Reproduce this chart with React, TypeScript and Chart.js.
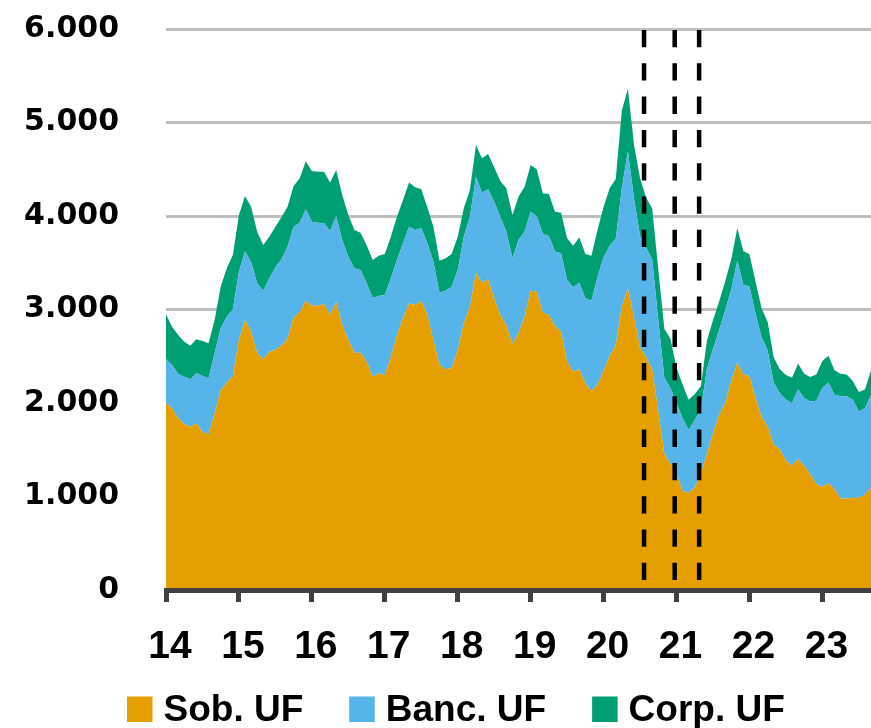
import React, { useEffect, useRef } from "react";
import { Chart, registerables } from "chart.js";

Chart.register(...registerables);

// Monthly data, Jan 2014 onwards (x in years, 14 = 2014)
const startYear = 14;
const yearTicks = [14, 15, 16, 17, 18, 19, 20, 21, 22, 23];

const sobUF = [
  1997, 1943, 1836, 1775, 1747, 1782, 1693, 1665, 1890, 2139,
  2217, 2289, 2674, 2888, 2763, 2531, 2467, 2549, 2567, 2613,
  2692, 2916, 2970, 3094, 3040, 3040, 3058, 2941, 3084, 2834,
  2674, 2538, 2538, 2442, 2282, 2317, 2299, 2495, 2727, 2906,
  3066, 3048, 3091, 2941, 2674, 2406, 2360, 2371, 2567, 2852,
  3030, 3394, 3287, 3323, 3120, 2941, 2834, 2631, 2745, 2923,
  3201, 3190, 2966, 2941, 2824, 2763, 2442, 2335, 2360, 2210,
  2132, 2192, 2345, 2505, 2614, 3030, 3228, 2921, 2595, 2487,
  2360, 1908, 1456, 1347, 1239, 1058, 1040, 1095, 1239, 1456,
  1673, 1872, 1999, 2234, 2433, 2306, 2288, 2053, 1854, 1745,
  1553, 1503, 1384, 1329, 1402, 1329, 1239, 1130, 1105, 1141,
  1077, 979, 979, 986, 986, 1022, 1095,
];

const bancUF = [
  470, 463, 474, 507, 506, 535, 595, 599, 641, 660,
  706, 713, 731, 731, 749, 749, 734, 785, 884, 924,
  980, 970, 959, 977, 899, 889, 864, 899, 916, 909,
  891, 902, 884, 845, 845, 827, 856, 838, 802, 802,
  820, 802, 777, 767, 837, 774, 841, 873, 855, 927,
  963, 1027, 963, 962, 1033, 1052, 998, 916, 998, 909,
  845, 810, 841, 845, 795, 838, 874, 902, 927, 910,
  962, 1159, 1215, 1176, 1139, 1266, 1466, 1266, 1195, 1176,
  1176, 977, 814, 814, 760, 778, 670, 723, 688, 904,
  904, 904, 994, 976, 1085, 959, 959, 905, 850, 814,
  663, 604, 651, 670, 742, 724, 778, 894, 1056, 1075,
  1012, 1092, 1092, 1049, 922, 922, 994,
];

const corpUF = [
  483, 410, 417, 374, 360, 364, 375, 374, 357, 445,
  517, 581, 606, 595, 588, 552, 489, 445, 435, 449,
  428, 435, 474, 514, 542, 545, 552, 517, 492, 482,
  446, 410, 400, 403, 402, 432, 439, 446, 464, 463,
  471, 457, 417, 385, 375, 342, 346, 350, 357, 303,
  285, 338, 367, 379, 368, 380, 464, 464, 464, 482,
  499, 499, 436, 449, 427, 435, 445, 446, 485, 474,
  482, 499, 540, 615, 644, 832, 668, 579, 614, 531,
  543, 542, 524, 525, 379, 362, 325, 278, 252, 307,
  308, 307, 307, 326, 351, 361, 344, 342, 307, 308,
  271, 253, 264, 271, 278, 260, 260, 282, 289, 289,
  261, 242, 235, 199, 210, 200, 261,
];

const seriesLabels = ["Sob. UF", "Banc. UF", "Corp. UF"];
const seriesColors = ["#E69F00", "#56B4E9", "#009E73"];
const seriesValues = [sobUF, bancUF, corpUF];

// Dashed event lines (pension fund withdrawals), in years
const eventLines = [20.555, 20.975, 21.31];

const yMin = 0;
const yMax = 6000;
const yStep = 1000;

const monthPositions = sobUF.map((_, i) => startYear + i / 12);

const fmtThousands = (v: number) =>
  String(Math.round(v)).replace(/\B(?=(\d{3})+(?!\d))/g, ".");

const eventLinesPlugin = {
  id: "eventLines",
  afterDatasetsDraw(chart: any) {
    const { ctx, chartArea, scales } = chart;
    ctx.save();
    ctx.strokeStyle = "#000000";
    ctx.lineWidth = 4.5;
    ctx.setLineDash([17.3, 16]);
    for (const v of eventLines) {
      const x = scales.x.getPixelForValue(v);
      ctx.beginPath();
      ctx.moveTo(x, chartArea.top + 1);
      ctx.lineTo(x, chartArea.bottom);
      ctx.stroke();
    }
    ctx.restore();
  },
};

const legendPlugin = {
  id: "customLegend",
  afterDraw(chart: any) {
    const ctx = chart.ctx;
    ctx.save();
    ctx.font = 'bold 37px "Liberation Sans", Arial, sans-serif';
    ctx.textBaseline = "alphabetic";
    ctx.textAlign = "left";
    const box = 25.5;
    const boxTop = 696.5;
    const baseline = 721;
    let x = 127;
    chart.data.datasets.forEach((ds: any) => {
      ctx.fillStyle = ds.backgroundColor;
      ctx.fillRect(x, boxTop, box, box);
      const tx = x + box + 11;
      ctx.fillStyle = "#000000";
      ctx.fillText(ds.label, tx, baseline);
      x = tx + ctx.measureText(ds.label).width + 46;
    });
    ctx.restore();
  },
};

export default function App() {
  const canvasRef = useRef<HTMLCanvasElement | null>(null);

  useEffect(() => {
    if (!canvasRef.current) return;
    const datasets = seriesValues.map((vals, si) => ({
      label: seriesLabels[si],
      data: vals.map((v, i) => ({ x: monthPositions[i], y: v })),
      backgroundColor: seriesColors[si],
      borderColor: seriesColors[si],
      borderWidth: 0,
      pointRadius: 0,
      tension: 0,
      fill: si === 0 ? "origin" : "-1",
    }));

    const chart = new Chart(canvasRef.current, {
      type: "line",
      data: { datasets },
      options: {
        animation: false,
        responsive: false,
        devicePixelRatio: 1,
        layout: { padding: { top: 29, left: 0, right: 0, bottom: 58 } },
        plugins: {
          legend: { display: false },
          tooltip: { enabled: false },
        },
        scales: {
          x: {
            type: "linear",
            min: startYear,
            max: monthPositions[monthPositions.length - 1],
            afterBuildTicks: (scale: any) => {
              scale.ticks = yearTicks.map((v) => ({ value: v }));
            },
            ticks: {
              stepSize: 1,
              includeBounds: false,
              autoSkip: false,
              maxRotation: 0,
              padding: 26,
              labelOffset: 4,
              color: "#000000",
              font: {
                family: '"Liberation Sans", Arial, sans-serif',
                weight: "bold",
                size: 39,
                lineHeight: 1,
              },
              callback: (v: any) => String(v),
            },
            grid: {
              drawOnChartArea: false,
              drawTicks: true,
              tickLength: 12,
              tickWidth: 5,
              tickColor: "#404040",
            },
            border: { display: true, color: "#404040", width: 5, z: 1 },
            afterFit: (scale: any) => {
              scale.height = 80;
            },
          },
          y: {
            stacked: true,
            min: yMin,
            max: yMax,
            ticks: {
              stepSize: yStep,
              padding: 0,
              color: "#000000",
              font: {
                family: '"DejaVu Sans", sans-serif',
                weight: "bold",
                size: 30,
              },
              callback: (v: any) => fmtThousands(Number(v)),
            },
            grid: {
              color: "#BFBFBF",
              lineWidth: 3,
              drawTicks: true,
              tickLength: 47,
              tickColor: "rgba(0,0,0,0)",
            },
            border: { display: false },
            afterFit: (scale: any) => {
              scale.width = 166;
            },
          },
        },
      },
      plugins: [eventLinesPlugin, legendPlugin],
    } as any);

    return () => chart.destroy();
  }, []);

  return (
    <div
      style={{
        position: "fixed",
        left: 0,
        top: 0,
        width: 871,
        height: 728,
        background: "#ffffff",
      }}
    >
      <canvas ref={canvasRef} width={871} height={728} style={{ width: 871, height: 728 }} />
    </div>
  );
}
